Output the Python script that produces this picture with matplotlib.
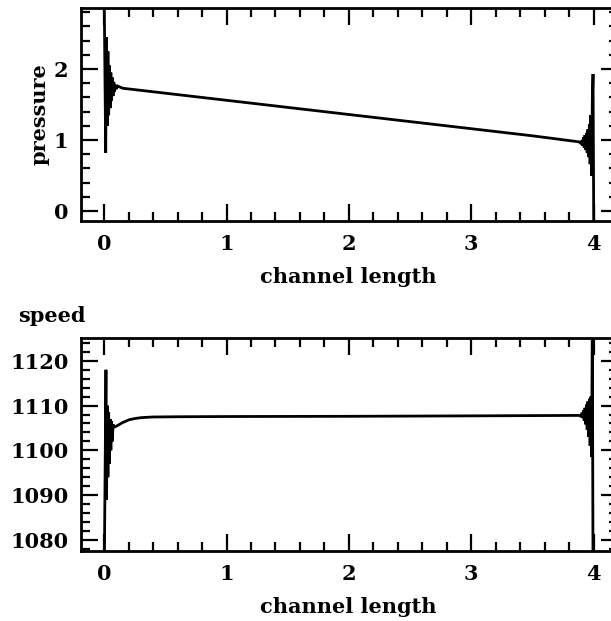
import matplotlib
matplotlib.use("Agg")
import matplotlib.pyplot as plt
from matplotlib.ticker import MultipleLocator

# ---- data -------------------------------------------------------------
# pressure along the channel (ringing at both ends, linear drop between)
pressure_x = [0.000, 0.012, 0.018, 0.024, 0.030, 0.036, 0.042, 0.048, 0.054,
              0.060, 0.066, 0.072, 0.078, 0.084, 0.090, 0.096, 0.110, 0.150,
              0.500, 1.000, 1.500, 2.000, 2.500, 3.000, 3.500, 3.880,
              3.900, 3.906, 3.912, 3.918, 3.924, 3.930, 3.936, 3.942, 3.948,
              3.954, 3.960, 3.966, 3.972, 3.978, 3.984, 3.990, 3.996, 4.002]
pressure_y = [2.95, 0.82, 2.45, 1.20, 2.25, 1.35, 2.05, 1.45, 1.95,
              1.55, 1.88, 1.62, 1.82, 1.68, 1.78, 1.72, 1.76, 1.73,
              1.66, 1.56, 1.46, 1.36, 1.26, 1.16, 1.06, 0.975,
              0.95, 1.00, 0.92, 1.04, 0.89, 1.07, 0.86, 1.10, 0.82,
              1.15, 0.76, 1.22, 0.66, 1.35, 0.50, 1.55, 1.93, -0.30]

# flow speed along the channel
speed_x = [0.000, 0.014, 0.019, 0.024, 0.030, 0.036, 0.042, 0.048, 0.054,
           0.060, 0.066, 0.072, 0.080, 0.100, 0.150, 0.200, 0.250, 0.300,
           0.400, 0.600, 1.000, 2.000, 3.000, 3.880,
           3.900, 3.906, 3.912, 3.918, 3.924, 3.930, 3.936, 3.942, 3.948,
           3.954, 3.960, 3.966, 3.972, 3.978, 3.984, 3.990, 3.996]
speed_y = [1072.0, 1118.0, 1089.0, 1110.0, 1094.0, 1108.5, 1097.0, 1107.0, 1100.0,
           1106.5, 1102.0, 1105.8, 1105.2, 1105.4, 1106.2, 1106.8, 1107.1, 1107.3,
           1107.45, 1107.5, 1107.55, 1107.6, 1107.7, 1107.8,
           1107.6, 1108.4, 1107.2, 1108.9, 1106.6, 1109.5, 1105.8, 1110.2, 1104.6,
           1110.9, 1103.0, 1111.5, 1101.0, 1112.0, 1098.5, 1128.0, 1072.0]

x_ticks = [0, 1, 2, 3, 4]
pressure_ticks = [0, 1, 2]
speed_ticks = [1080, 1090, 1100, 1110, 1120]

# ---- style ------------------------------------------------------------
plt.rcParams["font.family"] = ["DejaVu Serif"]
plt.rcParams["font.weight"] = "bold"
FS = 15

fig = plt.figure(figsize=(6.11, 6.21), dpi=100)
W, H = 611.0, 621.0
left_px, right_px = 81.0, 618.0
ax1 = fig.add_axes([left_px / W, 1 - 221 / H, (right_px - left_px) / W, 213 / H])
ax2 = fig.add_axes([left_px / W, 1 - 551 / H, (right_px - left_px) / W, 213 / H])


def style(ax):
    for s in ax.spines.values():
        s.set_linewidth(2.0)
    ax.tick_params(which="both", direction="in", top=True, right=True,
                   width=1.6, labelsize=FS, pad=9)
    ax.tick_params(which="major", length=12)
    ax.tick_params(which="minor", length=6.3)
    ax.set_xlim(-0.19, 4.2)
    ax.xaxis.set_major_locator(MultipleLocator(1))
    ax.xaxis.set_minor_locator(MultipleLocator(0.2))
    ax.set_xticks(x_ticks)
    for lab in ax.get_xticklabels() + ax.get_yticklabels():
        lab.set_fontweight("bold")


ax1.plot(pressure_x, pressure_y, color="black", lw=2.0, solid_joinstyle="miter")
style(ax1)
ax1.set_ylim(-0.14, 2.86)
ax1.set_yticks(pressure_ticks)
ax1.yaxis.set_minor_locator(MultipleLocator(0.2))
ax1.set_xlabel("channel length", fontsize=FS, fontweight="bold")
ax1.xaxis.set_label_coords(0.497, -0.215)
ax1.set_ylabel("pressure", fontsize=FS, fontweight="bold")
ax1.yaxis.set_label_coords(-0.058, 0.5)

ax2.plot(speed_x, speed_y, color="black", lw=2.0, solid_joinstyle="miter")
style(ax2)
ax2.set_ylim(1077.5, 1125.1)
ax2.set_yticks(speed_ticks)
ax2.yaxis.set_minor_locator(MultipleLocator(2))
ax2.set_xlabel("channel length", fontsize=FS, fontweight="bold")
ax2.xaxis.set_label_coords(0.497, -0.215)
fig.text(18 / W, 1 - 316 / H, "speed", fontsize=FS, fontweight="bold",
         ha="left", va="center")

fig.savefig("out.png", dpi=100)
